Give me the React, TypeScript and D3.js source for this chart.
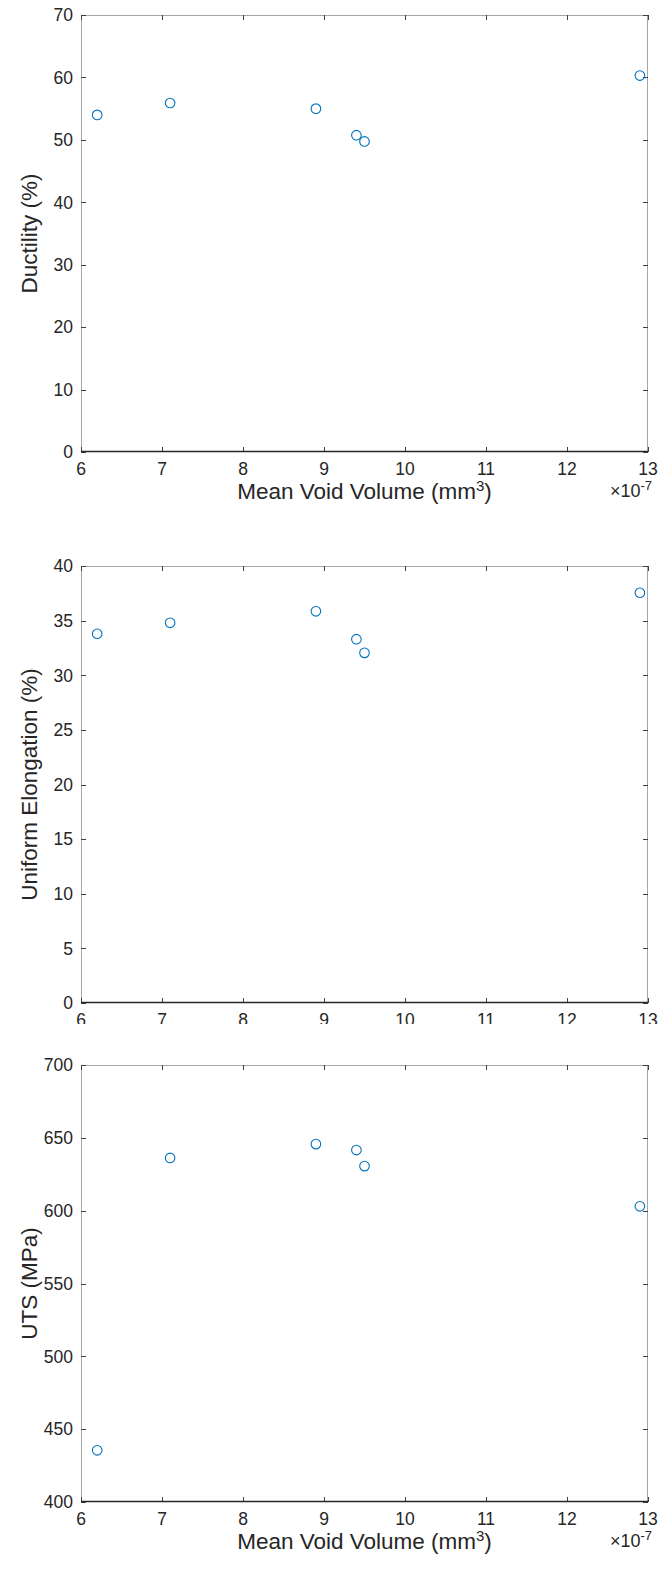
import React from "react";
import * as d3 from "d3";

// Mean void volume (units of 1e-7 mm^3) for each specimen
const voidVolume = [6.2, 7.1, 8.9, 9.4, 9.5, 12.9];
// Ductility (%)
const ductility = [54.0, 55.9, 55.0, 50.75, 49.75, 60.3];
// Uniform elongation (%)
const uniformElongation = [33.8, 34.8, 35.85, 33.3, 32.05, 37.55];
// Ultimate tensile strength (MPa)
const utsValues = [435.5, 636.2, 645.7, 641.6, 630.6, 603];

const xTicks = [6, 7, 8, 9, 10, 11, 12, 13];
const ductilityTicks = [0, 10, 20, 30, 40, 50, 60, 70];
const elongationTicks = [0, 5, 10, 15, 20, 25, 30, 35, 40];
const utsTicks = [400, 450, 500, 550, 600, 650, 700];

const W = 665;
const H = 1581;
const LEFT = 81;
const RIGHT = 648;
const PANEL_H = 437;
const FONT = "'Liberation Sans', Arial, Helvetica, sans-serif";
const TEXT = "#262626";
const MARKER = "#0072BD";
const TICK_FONT = 17.5;
const LABEL_FONT = 22.5;

type Panel = {
  yLabel: string;
  values: number[];
  yTicks: number[];
  top: number;
  xLabel: boolean;
  maskTop?: number;
};

const panels: Panel[] = [
  { yLabel: "Ductility (%)", values: ductility, yTicks: ductilityTicks, top: 15, xLabel: true },
  { yLabel: "Uniform Elongation (%)", values: uniformElongation, yTicks: elongationTicks, top: 566, xLabel: false },
  { yLabel: "UTS (MPa)", values: utsValues, yTicks: utsTicks, top: 1065, xLabel: true, maskTop: 1024 },
];

function PanelView({ p }: { p: Panel }) {
  const bottom = p.top + PANEL_H;
  const x = d3.scaleLinear().domain([6, 13]).range([LEFT, RIGHT]);
  const yDom = d3.extent(p.yTicks) as [number, number];
  const y = d3.scaleLinear().domain(yDom).range([bottom, p.top]);
  const tick = 5;
  const midY = (p.top + bottom) / 2;
  const midX = (LEFT + RIGHT) / 2;
  return (
    <g>
      {p.maskTop !== undefined && (
        <rect x={0} y={p.maskTop} width={W} height={H - p.maskTop} fill="#fff" />
      )}
      <rect x={LEFT} y={p.top} width={RIGHT - LEFT} height={PANEL_H} fill="#fff" />
      {/* box edges */}
      <line x1={LEFT} x2={RIGHT} y1={p.top + 0.5} y2={p.top + 0.5} stroke="#a6a6a6" strokeWidth={1} />
      <line x1={LEFT + 0.5} x2={LEFT + 0.5} y1={p.top} y2={bottom} stroke="#a6a6a6" strokeWidth={1} />
      <line x1={RIGHT - 0.5} x2={RIGHT - 0.5} y1={p.top} y2={bottom} stroke="#a6a6a6" strokeWidth={1} />
      {/* x ticks, bottom and top */}
      {xTicks.map((t) => (
        <g key={"xt" + t}>
          <line x1={Math.round(x(t)) + 0.5} x2={Math.round(x(t)) + 0.5} y1={bottom} y2={bottom - tick} stroke="#404040" />
          <line x1={Math.round(x(t)) + 0.5} x2={Math.round(x(t)) + 0.5} y1={p.top} y2={p.top + tick} stroke="#404040" />
          <text x={x(t)} y={bottom + 23} fontSize={TICK_FONT} fill={TEXT} textAnchor="middle" fontFamily={FONT}>
            {t}
          </text>
        </g>
      ))}
      {/* y ticks, left and right */}
      {p.yTicks.map((t) => (
        <g key={"yt" + t}>
          <line x1={LEFT} x2={LEFT + tick} y1={Math.round(y(t)) + 0.5} y2={Math.round(y(t)) + 0.5} stroke="#404040" />
          <line x1={RIGHT} x2={RIGHT - tick} y1={Math.round(y(t)) + 0.5} y2={Math.round(y(t)) + 0.5} stroke="#404040" />
          <text x={LEFT - 8} y={y(t) + 6.3} fontSize={TICK_FONT} fill={TEXT} textAnchor="end" fontFamily={FONT}>
            {t}
          </text>
        </g>
      ))}
      {/* bottom axis line */}
      <line x1={LEFT} x2={RIGHT} y1={bottom - 0.5} y2={bottom - 0.5} stroke="#262626" strokeWidth={1.3} />
      {/* markers */}
      {voidVolume.map((v, i) => (
        <circle key={"m" + i} cx={x(v)} cy={y(p.values[i])} r={4.8} fill="none" stroke={MARKER} strokeWidth={1.1} />
      ))}
      <text
        transform={`translate(${37},${midY}) rotate(-90)`}
        fontSize={LABEL_FONT}
        fill={TEXT}
        textAnchor="middle"
        fontFamily={FONT}
      >
        {p.yLabel}
      </text>
      {p.xLabel && (
        <g>
          <text x={midX} y={bottom + 47} fontSize={LABEL_FONT} fill={TEXT} textAnchor="middle" fontFamily={FONT}>
            Mean Void Volume (mm
            <tspan dy={-8} fontSize={15}>3</tspan>
            <tspan dy={8}>)</tspan>
          </text>
          <text x={RIGHT + 4} y={bottom + 45} fontSize={18} fill={TEXT} textAnchor="end" fontFamily={FONT}>
            ×10
            <tspan dy={-7} fontSize={13}>-7</tspan>
          </text>
        </g>
      )}
    </g>
  );
}

export default function App() {
  return (
    <svg
      width={W}
      height={H}
      viewBox={`0 0 ${W} ${H}`}
      style={{ position: "absolute", left: 0, top: 0, background: "#fff" }}
    >
      <rect x={0} y={0} width={W} height={H} fill="#fff" />
      {panels.map((p, i) => (
        <PanelView key={i} p={p} />
      ))}
    </svg>
  );
}
